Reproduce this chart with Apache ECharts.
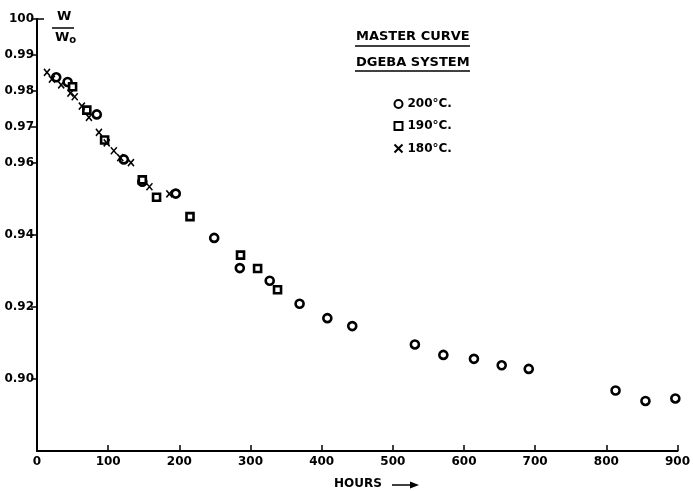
<!DOCTYPE html>
<html>
<head>
<meta charset="utf-8">
<script src="https://cdn.jsdelivr.net/npm/echarts@6/dist/echarts.min.js"></script>
<style>
  html, body { margin: 0; padding: 0; background: #fff; }
  #chart { width: 693px; height: 491px; }
</style>
</head>
<body>
<div id="chart"></div>
<script>
// master curve, W/Wo against hours
var hours200 = [27, 43, 84, 122, 148, 195, 249, 285, 327, 369, 408, 443, 531, 571, 614, 653, 691, 813, 855, 897];
var ratio200 = [0.9838, 0.9825, 0.9735, 0.9610, 0.9548, 0.9515, 0.9392, 0.9308, 0.9273, 0.9209, 0.9169, 0.9147, 0.9096, 0.9067, 0.9056, 0.9038, 0.9028, 0.8968, 0.8939, 0.8946];

var hours190 = [50, 70, 95, 148, 168, 215, 286, 310, 338];
var ratio190 = [0.9812, 0.9747, 0.9664, 0.9553, 0.9505, 0.9451, 0.9344, 0.9307, 0.9248];

var hours180 = [14, 21, 34, 47, 53, 63, 73, 87, 98, 108, 117, 132, 158, 186];
var ratio180 = [0.9852, 0.9833, 0.9817, 0.9794, 0.9784, 0.9758, 0.9727, 0.9685, 0.9656, 0.9634, 0.9615, 0.9601, 0.9534, 0.9514];

var yTicks = [0.90, 0.92, 0.94, 0.96, 0.97, 0.98, 0.99, 1.00];
var seriesNames = ['200°C.', '190°C.', '180°C.'];

function pairs(xs, ys) {
	var out = [];
	for (var i = 0; i < xs.length; i++) out.push([xs[i], ys[i]]);
	return out;
}

var font = 'DejaVu Sans';
var chart = echarts.init(document.getElementById('chart'));

chart.setOption({
	animation: false,
	backgroundColor: '#fff',
	grid: { left: 37, right: 11, top: 19, bottom: 40 },
	legend: {
		orient: 'vertical',
		left: 387,
		top: 93,
		itemWidth: 8,
		itemHeight: 8,
		itemGap: 10,
		data: seriesNames,
		textStyle: { fontFamily: font, fontSize: 12, color: '#000', fontWeight: 'bold' }
	},
	xAxis: {
		type: 'value',
		min: 0,
		max: 900,
		interval: 100,
		axisLine: { lineStyle: { color: '#000', width: 2 } },
		axisTick: { inside: true, length: 6, lineStyle: { color: '#000', width: 1.5 } },
		axisLabel: { color: '#000', fontFamily: font, fontSize: 12, fontWeight: 'bold', margin: 5 },
		splitLine: { show: false }
	},
	yAxis: {
		type: 'value',
		min: 0.88,
		max: 1.0,
		axisLine: { show: true, lineStyle: { color: '#000', width: 2 } },
		axisTick: { show: true, length: 6, customValues: yTicks, lineStyle: { color: '#000', width: 1.5 } },
		axisLabel: {
			customValues: yTicks,
			color: '#000', fontFamily: font, fontSize: 12, fontWeight: 'bold', margin: 3,
			formatter: function (v) { return Math.abs(v - 1) < 1e-9 ? '100' : v.toFixed(2); }
		},
		splitLine: { show: false }
	},
	graphic: [
		// W / Wo
		{ type: 'text', left: 57, top: 10, style: { text: 'W', fontFamily: font, fontSize: 13, fontWeight: 'bold', fill: '#000' } },
		{ type: 'line', shape: { x1: 52, y1: 28, x2: 74, y2: 28 }, style: { stroke: '#000', lineWidth: 1.5 } },
		{ type: 'text', left: 55, top: 31, style: {
			text: 'W{s|o}', fontFamily: font, fontSize: 13, fontWeight: 'bold', fill: '#000',
			rich: { s: { fontSize: 10, fontWeight: 'bold', fontFamily: font, padding: [6, 0, 0, 0] } }
		} },
		// top end stroke of the y axis
		{ type: 'line', shape: { x1: 37, y1: 19, x2: 44, y2: 19 }, style: { stroke: '#000', lineWidth: 1.5 } },
		// legend heading
		{ type: 'text', left: 356, top: 30, style: { text: 'MASTER CURVE', fontFamily: font, fontSize: 13, fontWeight: 'bold', fill: '#000' } },
		{ type: 'line', shape: { x1: 355, y1: 46, x2: 470, y2: 46 }, style: { stroke: '#000', lineWidth: 1.5 } },
		{ type: 'text', left: 356, top: 56, style: { text: 'DGEBA SYSTEM', fontFamily: font, fontSize: 13, fontWeight: 'bold', fill: '#000' } },
		{ type: 'line', shape: { x1: 355, y1: 71, x2: 470, y2: 71 }, style: { stroke: '#000', lineWidth: 1.5 } },
		// axis title
		{ type: 'text', left: 334, top: 478, style: { text: 'HOURS', fontFamily: font, fontSize: 12, fontWeight: 'bold', fill: '#000' } },
		{ type: 'line', shape: { x1: 392, y1: 485, x2: 412, y2: 485 }, style: { stroke: '#000', lineWidth: 1.5 } },
		{ type: 'polygon', shape: { points: [[419, 485], [410, 481.5], [410, 488.5]] }, style: { fill: '#000' } }
	],
	series: [
		{
			name: seriesNames[0],
			type: 'scatter',
			data: pairs(hours200, ratio200),
			symbol: 'circle',
			symbolSize: 8,
			itemStyle: { color: '#fff', borderColor: '#000', borderWidth: 2.6, opacity: 1 }
		},
		{
			name: seriesNames[1],
			type: 'scatter',
			data: pairs(hours190, ratio190),
			symbol: 'rect',
			symbolSize: 7,
			itemStyle: { color: '#fff', borderColor: '#000', borderWidth: 2.6, opacity: 1 }
		},
		{
			name: seriesNames[2],
			type: 'scatter',
			data: pairs(hours180, ratio180),
			symbol: 'path://M0,0L10,10M10,0L0,10',
			symbolSize: [6, 7],
			itemStyle: { color: 'none', borderColor: '#000', borderWidth: 1.6, opacity: 1 }
		}
	]
});
</script>
</body>
</html>
